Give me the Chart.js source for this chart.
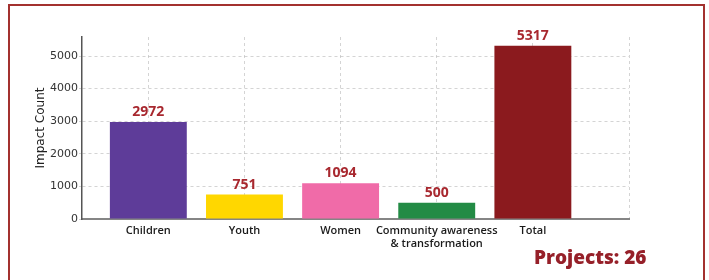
<!DOCTYPE html>
<html>
<head>
<meta charset="utf-8">
<script src="https://cdn.jsdelivr.net/npm/chart.js@4.4.0/dist/chart.umd.min.js"></script>
<style>
    html, body { margin: 0; padding: 0; background: #fff; }
    #wrap { position: relative; width: 709px; height: 280px; overflow: hidden; }
    #frame {
        position: absolute; left: 8px; top: 4px; width: 697px; height: 280px;
        border: 2px solid #a3312f; box-sizing: border-box;
    }
    #projects {
        position: absolute; left: 534px; top: 244px;
        font-family: "Open Sans", sans-serif; font-weight: 800; font-size: 19px;
        color: #962029;
    }
    canvas { position: absolute; left: 0; top: 0; }
</style>
</head>
<body>
<div id="wrap">
    <div id="frame"></div>
    <canvas id="impactchart" width="709" height="280"></canvas>
    <div id="projects">Projects: 26</div>
</div>
<script>
const categories = ['Children', 'Youth', 'Women', ['Community awareness', '& transformation'], 'Total'];
const impactCounts = [2972, 751, 1094, 500, 5317];
const barColors = ['#5e3c99', '#ffd700', '#f06ba8', '#238b45', '#8b1a1e'];
const yTicks = [0, 1000, 2000, 3000, 4000, 5000];

// value labels above each bar
const valueLabels = {
    id: 'valueLabels',
    afterDatasetsDraw(chart) {
        const ctx = chart.ctx;
        const meta = chart.getDatasetMeta(0);
        ctx.save();
        ctx.font = 'bold 14px "Open Sans"';
        ctx.fillStyle = '#a8282f';
        ctx.textAlign = 'center';
        ctx.textBaseline = 'middle';
        meta.data.forEach((bar, i) => {
            ctx.fillText(String(impactCounts[i]), bar.x, bar.y - 10);
        });
        ctx.restore();
    }
};

const ctx = document.getElementById('impactchart').getContext('2d');
const config = {
    type: 'bar',
    data: {
        datasets: [{
            label: 'Impact Count',
            data: impactCounts.map((v, i) => ({ x: i, y: v })),
            backgroundColor: barColors,
            borderWidth: 0,
            barPercentage: 1,
            categoryPercentage: 0.8
        }]
    },
    options: {
        responsive: false,
        animation: false,
        layout: { padding: { top: 37, right: 80, left: 30, bottom: 25 } },
        plugins: {
            legend: { display: false },
            tooltip: { enabled: false }
        },
        scales: {
            x: {
                type: 'linear',
                offset: false,
                min: -0.69,
                max: 5,
                z: 1,
                afterBuildTicks: (scale) => {
                    scale.ticks = [0, 1, 2, 3, 4, 5].map(v => ({ value: v }));
                },
                afterFit: (scale) => { scale.height = 36; },
                ticks: {
                    autoSkip: false,
                    maxRotation: 0,
                    padding: 5,
                    color: '#1a1a1a',
                    font: { family: 'Open Sans', weight: '600', size: 11 },
                    callback: (v) => categories[v] ?? ''
                },
                grid: {
                    offset: false,
                    color: 'rgba(170,170,170,0.5)',
                    drawTicks: false
                },
                border: { display: true, color: '#858585', width: 2, dash: [3, 3] }
            },
            y: {
                min: 0,
                max: 5583,
                z: 1,
                afterBuildTicks: (scale) => {
                    scale.ticks = yTicks.map(v => ({ value: v }));
                },
                afterFit: (scale) => { scale.width = 52; },
                ticks: {
                    padding: 1,
                    color: '#333',
                    font: { family: 'DejaVu Sans', size: 11 },
                    callback: (v) => String(v)
                },
                grid: {
                    color: 'rgba(170,170,170,0.5)',
                    tickLength: 3
                },
                border: { display: true, color: '#555', width: 1.5, dash: [3, 3] },
                title: {
                    display: true,
                    text: 'Impact Count',
                    color: '#222',
                    font: { family: 'DejaVu Sans', size: 12 }
                }
            }
        }
    },
    plugins: [valueLabels]
};

const myChart = new Chart(ctx, config);
</script>
</body>
</html>
